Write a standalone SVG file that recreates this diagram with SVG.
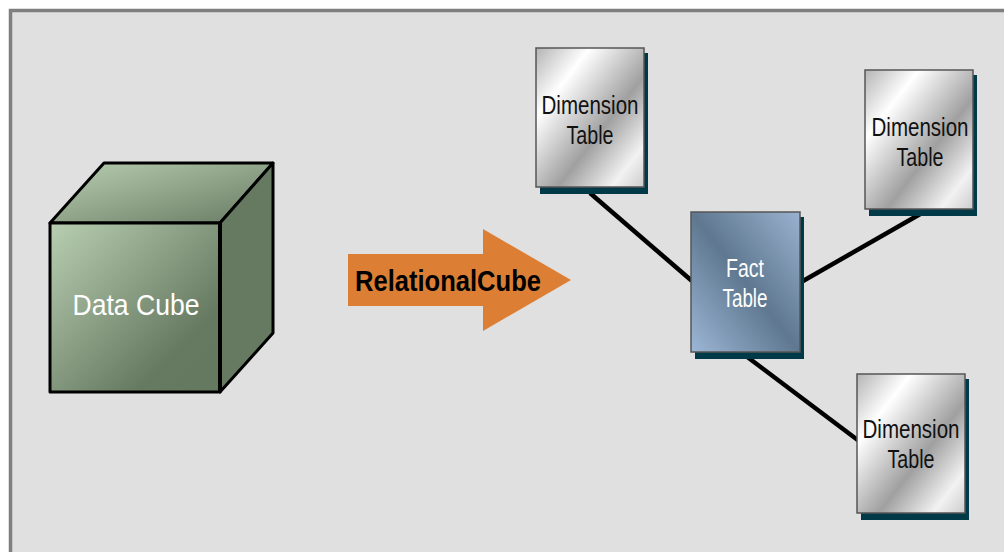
<svg xmlns="http://www.w3.org/2000/svg" width="1004" height="552" viewBox="0 0 1004 552">
<defs>
<linearGradient id="silver" x1="0" y1="0" x2="1" y2="1">
<stop offset="0" stop-color="#b4b4b4"/>
<stop offset="0.25" stop-color="#ffffff"/>
<stop offset="0.6" stop-color="#a0a0a0"/>
<stop offset="0.85" stop-color="#f2f2f2"/>
<stop offset="1" stop-color="#cccccc"/>
</linearGradient>
<linearGradient id="blue" x1="0" y1="1" x2="1" y2="0">
<stop offset="0" stop-color="#9cb6d6"/>
<stop offset="0.5" stop-color="#5f7890"/>
<stop offset="1" stop-color="#9ab2cf"/>
</linearGradient>
<linearGradient id="green" x1="0" y1="0" x2="1" y2="1">
<stop offset="0" stop-color="#b9cfb1"/>
<stop offset="0.75" stop-color="#667a62"/>
<stop offset="1" stop-color="#657961"/>
</linearGradient>
<linearGradient id="greenTop" x1="0" y1="0" x2="1" y2="1">
<stop offset="0" stop-color="#b9cfb1"/>
<stop offset="1" stop-color="#667a62"/>
</linearGradient>
</defs>
<style>
.t{font-family:"Liberation Sans",Arial,sans-serif;text-anchor:middle}
.dim{font-size:25px;fill:#111}
.fact{font-size:25px;fill:#fff}
.shadow{fill:#003a48}
.box{stroke:#555;stroke-width:1.5}
.conn{stroke:#000;stroke-width:4.5;fill:none}
.cube{stroke:#000;stroke-width:3;stroke-linejoin:round}
</style>
<rect x="0" y="0" width="1004" height="552" fill="#ffffff"/>
<rect x="10.5" y="10.5" width="1000" height="560" fill="#e0e0e0" stroke="#7f7f7f" stroke-width="3.5"/>

<g id="connectors">
<line class="conn" x1="590" y1="193" x2="692" y2="281"/>
<line class="conn" x1="803" y1="281" x2="922" y2="213"/>
<line class="conn" x1="746" y1="356" x2="859" y2="441"/>
</g>

<g id="data-cube">
<polygon class="cube" points="50,223 104,163 273,163 220,223" fill="url(#greenTop)"/>
<polygon class="cube" points="220,223 273,163 273,333 220,392" fill="#667a62"/>
<rect class="cube" x="50" y="223" width="170" height="169" fill="url(#green)"/>
<line x1="220" y1="223" x2="220" y2="392" stroke="#000" stroke-width="4"/>
<text class="t" x="136" y="315" font-size="29" fill="#fff" textLength="127" lengthAdjust="spacingAndGlyphs">Data Cube</text>
</g>

<g id="relational-arrow">
<polygon points="348,254 483,254 483,229 571,280 483,331 483,306 348,306" fill="#dc7e33"/>
<text class="t" x="448" y="291" font-size="29" font-weight="bold" fill="#000" textLength="186" lengthAdjust="spacingAndGlyphs">RelationalCube</text>
</g>

<g id="dim-table-1">
<rect class="shadow" x="540" y="53" width="108" height="141"/>
<rect class="box" x="536" y="48" width="108" height="139" fill="url(#silver)"/>
<text class="t dim" x="590" y="114" textLength="97" lengthAdjust="spacingAndGlyphs">Dimension</text>
<text class="t dim" x="590" y="144" textLength="47" lengthAdjust="spacingAndGlyphs">Table</text>
</g>

<g id="dim-table-2">
<rect class="shadow" x="869" y="75" width="108" height="141"/>
<rect class="box" x="865" y="70" width="108" height="139" fill="url(#silver)"/>
<text class="t dim" x="920" y="136" textLength="97" lengthAdjust="spacingAndGlyphs">Dimension</text>
<text class="t dim" x="920" y="166" textLength="47" lengthAdjust="spacingAndGlyphs">Table</text>
</g>

<g id="fact-table">
<rect class="shadow" x="695" y="217" width="109" height="142"/>
<rect class="box" x="691" y="212" width="109" height="140" fill="url(#blue)" stroke="#3a4a5a"/>
<text class="t fact" x="745" y="277" textLength="38" lengthAdjust="spacingAndGlyphs">Fact</text>
<text class="t fact" x="745" y="307" textLength="45" lengthAdjust="spacingAndGlyphs">Table</text>
</g>

<g id="dim-table-3">
<rect class="shadow" x="861" y="379" width="108" height="141"/>
<rect class="box" x="857" y="374" width="108" height="139" fill="url(#silver)"/>
<text class="t dim" x="911" y="438" textLength="97" lengthAdjust="spacingAndGlyphs">Dimension</text>
<text class="t dim" x="911" y="468" textLength="47" lengthAdjust="spacingAndGlyphs">Table</text>
</g>
</svg>
